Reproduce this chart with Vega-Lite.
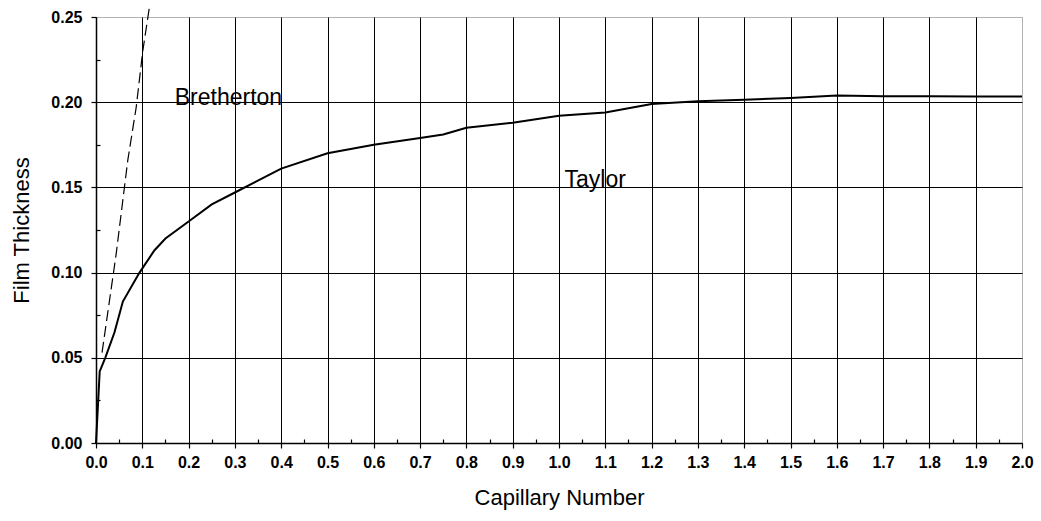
{
  "$schema": "https://vega.github.io/schema/vega-lite/v6.json",
  "width": 926,
  "height": 426,
  "autosize": "none",
  "padding": {"left": 96, "top": 17, "right": 19, "bottom": 78},
  "background": "white",
  "config": {
    "font": "Liberation Sans",
    "view": {"stroke": "#666666", "strokeDash": [1, 1], "strokeWidth": 1},
    "axis": {
      "domainColor": "black",
      "domainWidth": 1.5,
      "tickColor": "black",
      "tickWidth": 1.2,
      "tickSize": 5,
      "gridColor": "black",
      "gridWidth": 1,
      "gridOpacity": 1,
      "labelColor": "black",
      "labelFont": "Liberation Sans",
      "labelFontSize": 16,
      "labelFontWeight": "bold",
      "titleColor": "black",
      "titleFont": "Liberation Sans",
      "titleFontSize": 22,
      "titleFontWeight": "normal"
    }
  },
  "datasets": {
    "curves": [
      {"series": "Taylor", "ca": 0.0, "h": 0.0},
      {"series": "Taylor", "ca": 0.008, "h": 0.042},
      {"series": "Taylor", "ca": 0.02, "h": 0.05},
      {"series": "Taylor", "ca": 0.04, "h": 0.065},
      {"series": "Taylor", "ca": 0.058, "h": 0.083},
      {"series": "Taylor", "ca": 0.094, "h": 0.1},
      {"series": "Taylor", "ca": 0.126, "h": 0.113},
      {"series": "Taylor", "ca": 0.15, "h": 0.12},
      {"series": "Taylor", "ca": 0.2, "h": 0.13},
      {"series": "Taylor", "ca": 0.25, "h": 0.14},
      {"series": "Taylor", "ca": 0.3, "h": 0.147},
      {"series": "Taylor", "ca": 0.4, "h": 0.161},
      {"series": "Taylor", "ca": 0.5, "h": 0.17},
      {"series": "Taylor", "ca": 0.6, "h": 0.175},
      {"series": "Taylor", "ca": 0.7, "h": 0.179},
      {"series": "Taylor", "ca": 0.75, "h": 0.181},
      {"series": "Taylor", "ca": 0.8, "h": 0.185},
      {"series": "Taylor", "ca": 0.9, "h": 0.188},
      {"series": "Taylor", "ca": 1.0, "h": 0.192},
      {"series": "Taylor", "ca": 1.1, "h": 0.194},
      {"series": "Taylor", "ca": 1.2, "h": 0.199},
      {"series": "Taylor", "ca": 1.3, "h": 0.2005},
      {"series": "Taylor", "ca": 1.4, "h": 0.2015},
      {"series": "Taylor", "ca": 1.5, "h": 0.2025},
      {"series": "Taylor", "ca": 1.6, "h": 0.204},
      {"series": "Taylor", "ca": 1.7, "h": 0.2035},
      {"series": "Taylor", "ca": 1.8, "h": 0.2035},
      {"series": "Taylor", "ca": 1.9, "h": 0.2033},
      {"series": "Taylor", "ca": 2.0, "h": 0.2033},
      {"series": "Bretherton", "ca": 0.013, "h": 0.053},
      {"series": "Bretherton", "ca": 0.0436, "h": 0.111},
      {"series": "Bretherton", "ca": 0.0687, "h": 0.166},
      {"series": "Bretherton", "ca": 0.0868, "h": 0.197},
      {"series": "Bretherton", "ca": 0.101, "h": 0.23},
      {"series": "Bretherton", "ca": 0.1155, "h": 0.256}
    ],
    "labels": [
      {"label": "Bretherton", "ca": 0.17, "h": 0.1985},
      {"label": "Taylor", "ca": 1.012, "h": 0.1505}
    ]
  },
  "resolve": {"axis": {"x": "independent", "y": "independent"}},
  "layer": [
    {
      "data": {"name": "curves"},
      "transform": [{"filter": "datum.series === 'Taylor'"}],
      "mark": {"type": "line", "color": "black", "strokeWidth": 2},
      "encoding": {
        "x": {
          "field": "ca", "type": "quantitative",
          "scale": {"domain": [0, 2], "nice": false, "zero": false},
          "axis": {
            "title": "Capillary Number",
            "values": [0,0.1,0.2,0.3,0.4,0.5,0.6,0.7,0.8,0.9,1.0,1.1,1.2,1.3,1.4,1.5,1.6,1.7,1.8,1.9,2.0],
            "format": ".1f",
            "labelPadding": 6,
            "labelFlush": false,
            "titlePadding": 17,
            "gridOpacity": {"condition": {"test": "datum.value >= 1.99", "value": 0}, "value": 1}
          }
        },
        "y": {
          "field": "h", "type": "quantitative",
          "scale": {"domain": [0, 0.25], "nice": false, "zero": false},
          "axis": {
            "title": "Film Thickness",
            "values": [0, 0.05, 0.1, 0.15, 0.2, 0.25],
            "format": ".2f",
            "labelPadding": 9,
            "labelFlush": false,
            "titlePadding": 17,
            "gridOpacity": {"condition": {"test": "datum.value >= 0.249", "value": 0}, "value": 1}
          }
        }
      }
    },
    {
      "data": {"name": "curves"},
      "transform": [{"filter": "datum.series === 'Bretherton'"}],
      "mark": {"type": "line", "color": "black", "strokeWidth": 1.2, "strokeDash": [11, 5], "clip": false},
      "encoding": {
        "x": {
          "field": "ca", "type": "quantitative",
          "axis": {
            "orient": "bottom",
            "values": [0.05,0.15,0.25,0.35,0.45,0.55,0.65,0.75,0.85,0.95,1.05,1.15,1.25,1.35,1.45,1.55,1.65,1.75,1.85,1.95],
            "tickSize": -4, "labels": false, "domain": false, "grid": false, "title": null
          }
        },
        "y": {
          "field": "h", "type": "quantitative",
          "axis": {
            "orient": "left",
            "values": [0.025, 0.075, 0.125, 0.175, 0.225],
            "tickSize": -4, "labels": false, "domain": false, "grid": false, "title": null
          }
        }
      }
    },
    {
      "data": {"name": "labels"},
      "mark": {"type": "text", "font": "Liberation Sans", "fontSize": 23, "align": "left", "baseline": "alphabetic", "color": "black"},
      "encoding": {
        "x": {"field": "ca", "type": "quantitative", "axis": null},
        "y": {"field": "h", "type": "quantitative", "axis": null},
        "text": {"field": "label"}
      }
    }
  ]
}
